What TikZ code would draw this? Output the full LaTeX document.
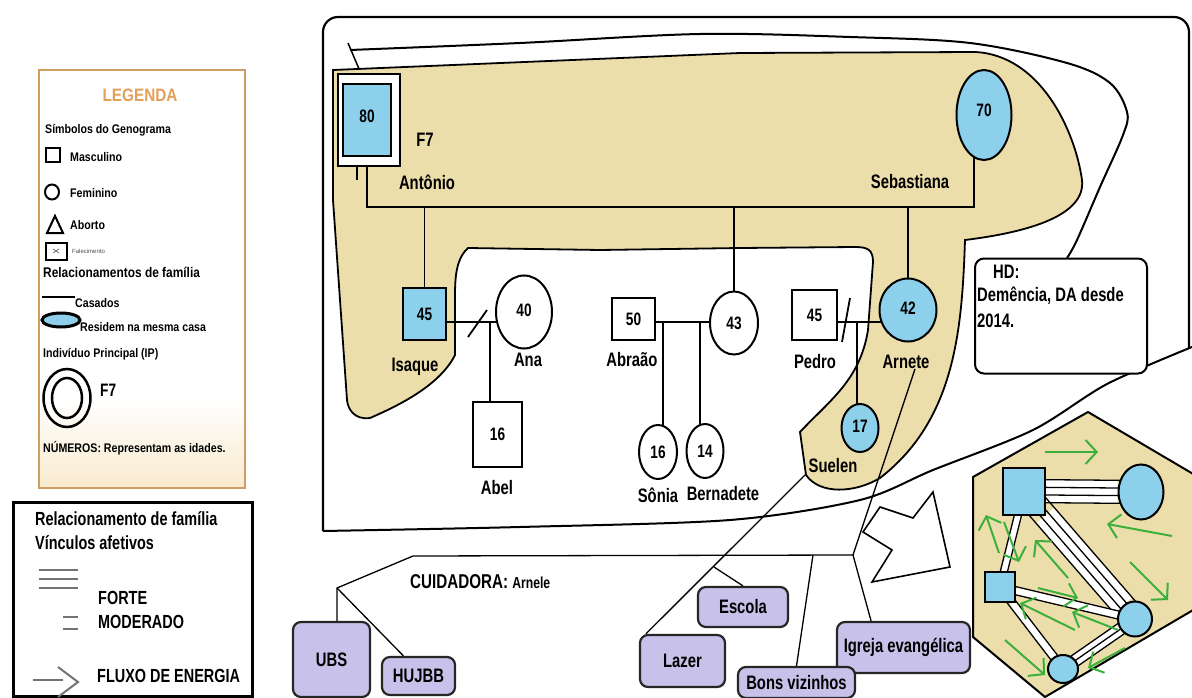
\documentclass[tikz,border=0pt]{standalone}
\usepackage{fontspec}
\setmainfont{Liberation Sans}
\newfontfamily\cfont{Liberation Sans}[FakeStretch=0.76]
\newfontfamily\lfont{Liberation Sans}[FakeStretch=0.85]
\usetikzlibrary{shapes.geometric,calc,arrows.meta}
\pgfdeclarelayer{bg}
\pgfsetlayers{bg,main}
\definecolor{tanf}{RGB}{236,222,170}
\definecolor{skyb}{RGB}{140,208,235}
\definecolor{lav}{RGB}{200,194,234}
\definecolor{legor}{RGB}{208,158,100}
\definecolor{legtxt}{RGB}{226,160,90}
\definecolor{grn}{RGB}{60,175,60}
\definecolor{creamc}{RGB}{248,234,205}
\definecolor{grayl}{RGB}{115,115,115}
\newcommand\fLbl{\cfont\bfseries\fontsize{19.5}{21}\selectfont}
\newcommand\fNum{\cfont\bfseries\fontsize{18}{20}\selectfont}
\newcommand\fLeg{\lfont\bfseries\fontsize{12.5}{14}\selectfont}
\newcommand\bondlines[4]{%
  \draw[white, line width=#4] (#1) -- (#2);
  \foreach \o in {#3} {\draw[black, line width=1.3pt] ($(#1)!\o!90:(#2)$) -- ($(#2)!\o!-90:(#1)$);}
}
\begin{document}
\begin{tikzpicture}[x=1pt,y=-1pt,
  famline/.style={line width=1.8pt},
  msq/.style={draw, line width=2pt, rectangle, inner sep=0pt, fill=white, font=\fNum},
  fci/.style={draw, line width=2pt, ellipse, inner sep=0pt, fill=white, font=\fNum},
  bfill/.style={fill=skyb},
  lbl/.style={font=\fLbl, inner sep=0pt},
  legt/.style={font=\fLeg, inner sep=0pt, anchor=west},
  leg2t/.style={font=\cfont\bfseries\fontsize{19}{21}\selectfont, inner sep=0pt, anchor=west},
  res/.style={draw=black!85, line width=2.2pt, fill=lav, rounded corners=8pt, inner sep=0pt, font=\fLbl},
  thinl/.style={line width=1.3pt},
  grnar/.style={draw=grn, line width=2pt, -{Straight Barb[length=11pt,width=24pt]}},
  hxs/.style={draw, line width=2pt, fill=skyb, inner sep=0pt},
]
\useasboundingbox (0,0) rectangle (1192,698);

% ---------- background layer: frames and regions ----------
\begin{pgfonlayer}{bg}
\fill[white] (0,0) rectangle (1192,698);
% main frame
\draw[line width=2.2pt, rounded corners=15pt] (323,531) -- (323,17) -- (1189,17) -- (1189,348);
\draw[line width=2pt] plot[smooth, tension=0.5] coordinates {(1192,347) (1107,384) (1033,430) (933,470) (860,500) (730,520) (520,527) (323,531)};
% outer contour linked to HD box
\draw[line width=2pt] plot[smooth, tension=0.55] coordinates {(350,50) (520,43) (700,34) (850,37) (970,43) (1067,63) (1110,83) (1127,112) (1123,135) (1100,187) (1077,240) (1067,258)};
\draw[line width=1.5pt] (348,43) -- (365,83);
% tan region (residem na mesma casa)
\filldraw[fill=tanf, draw=black, line width=1.8pt]
  (333,70) -- (740,53) -- (975,52)
  .. controls (1040,55) and (1075,130) .. (1082,180)
  .. controls (1086,215) and (1030,232) .. (965,240)
  .. controls (962,330) and (955,420) .. (880,478)
  .. controls (855,493) and (820,495) .. (806,475)
  -- (800,432)
  .. controls (830,400) and (860,380) .. (868,330)
  -- (873,262)
  .. controls (873,250) and (868,247) .. (855,247)
  -- (740,248) -- (600,250) -- (468,248)
  .. controls (455,260) and (455,280) .. (455,300)
  -- (455,355)
  .. controls (440,385) and (400,405) .. (370,418)
  .. controls (355,420) and (348,410) .. (347,400)
  -- (333,200) -- cycle;
% hexagon (ecomap)
\filldraw[fill=tanf, draw=black, line width=2pt] (973,477) -- (1088,412) -- (1200,478) -- (1200,606) -- (1045,697) -- (973,637) -- cycle;
\end{pgfonlayer}

% ---------- legend 1 ----------
\fill[white] (39,70) rectangle (245,488);
\shade[top color=white, bottom color=creamc] (39,400) rectangle (245,488);
\node[draw=legor, line width=2.5pt, minimum width=206, minimum height=418, inner sep=0] (leg1) at (142,279) {};
\node[font=\lfont\bfseries\fontsize{18}{20}\selectfont, text=legtxt, inner sep=0] (legT) at (140,95) {LEGENDA};
\node[legt] (l1) at (45,130) {Símbolos do Genograma};
\node[draw, line width=2pt, minimum size=14pt, inner sep=0] (lsq) at (52.5,155.5) {};
\node[legt] (l2) at (70,157) {Masculino};
\node[draw, ellipse, line width=2pt, minimum width=14pt, minimum height=15pt, inner sep=0] (lci) at (52,192) {};
\node[legt] (l3) at (70,193) {Feminino};
\draw[line width=2pt] (47,233) -- (63,233) -- (55,216) -- cycle;
\node[legt] (l4) at (70,225) {Aborto};
\node[draw, line width=2pt, minimum width=21pt, minimum height=17pt, inner sep=0] (lfal) at (56,251) {};
\draw[black!55, line width=0.8pt] (53,249) -- (59,253) (53,253) -- (59,249);
\node[font=\fontsize{6}{7}\selectfont, text=black!70, anchor=west, inner sep=0] (l5) at (72,251) {Falecimento};
\node[font=\lfont\bfseries\fontsize{14}{16}\selectfont, inner sep=0, anchor=west] (l6) at (43,272) {Relacionamentos de família};
\draw[line width=2.5pt] (42,297) -- (75,297);
\node[legt] (l7) at (75,303) {Casados};
\node[draw, ellipse, line width=3pt, fill=skyb, minimum width=38pt, minimum height=14pt, inner sep=0] (lell) at (61,320) {};
\node[legt] (l8) at (80,327) {Residem na mesma casa};
\node[legt] (l9) at (43,354) {Indivíduo Principal (IP)};
\node[draw, ellipse, line width=2.5pt, minimum width=47pt, minimum height=58pt, inner sep=0] (lip) at (67,398) {};
\node[draw, ellipse, line width=2.5pt, minimum width=30pt, minimum height=40pt, inner sep=0] (lip2) at (67,398) {};
\node[font=\cfont\bfseries\fontsize{18}{20}\selectfont, anchor=west, inner sep=0] (l10) at (100,390) {F7};
\node[legt] (l11) at (43,448) {NÚMEROS: Representam as idades.};

% ---------- legend 2 ----------
\node[draw, line width=3pt, fill=white, minimum width=239, minimum height=194, inner sep=0] (leg2) at (132.5,599) {};
\node[leg2t] (m1) at (35,519) {Relacionamento de família};
\node[leg2t] (m2) at (35,543) {Vínculos afetivos};
\draw[grayl, line width=2pt] (39,570) -- (78,570) (39,579) -- (78,579) (39,588) -- (78,588);
\node[leg2t] (m3) at (98,598) {FORTE};
\draw[grayl, line width=2pt] (63,617) -- (78,617) (63,629) -- (78,629);
\node[leg2t] (m4) at (98,622) {MODERADO};
\draw[grayl, line width=2pt] (33,680) -- (63,680);
\draw[grayl, line width=2pt] (58,667) -- (78,682) -- (58,697);
\node[leg2t] (m5) at (97,676) {FLUXO DE ENERGIA};

% ---------- genogram nodes ----------
\node[msq, minimum width=62, minimum height=92] (antO) at (369,120) {};
\node[msq, bfill, minimum width=48, minimum height=72] (ant) at (367,120) {\raisebox{7pt}{80}};
\node[fci, bfill, minimum width=55, minimum height=90] (seb) at (984,115) {\raisebox{10pt}{70}};
\node[msq, bfill, minimum width=43, minimum height=52] (isa) at (424.5,314) {45};
\node[fci, minimum width=56, minimum height=73] (ana) at (524,312) {\raisebox{4pt}{40}};
\node[msq, minimum width=49, minimum height=65] (abel) at (497.5,434.5) {16};
\node[msq, minimum width=43, minimum height=42] (abr) at (633.5,319) {50};
\node[fci, minimum width=48, minimum height=63] (c43) at (734,323) {43};
\node[fci, minimum width=38, minimum height=54] (son) at (658,452) {16};
\node[fci, minimum width=37, minimum height=54] (ber) at (705,451) {14};
\node[msq, minimum width=45, minimum height=50] (ped) at (814.5,315) {45};
\node[fci, bfill, minimum width=57, minimum height=63] (arn) at (908,310) {\raisebox{4pt}{42}};
\node[fci, bfill, minimum width=37, minimum height=48] (sue) at (860,428) {\raisebox{3pt}{17}};

\node[lbl] (tF7) at (425,140) {F7};
\node[lbl] (tAnt) at (427,182) {Antônio};
\node[lbl] (tSeb) at (910,182) {Sebastiana};
\node[lbl] (tIsa) at (415,367) {Isaque};
\node[lbl] (tAna) at (528,360) {Ana};
\node[lbl] (tAbel) at (497,488) {Abel};
\node[lbl] (tAbr) at (632,360) {Abraão};
\node[lbl] (tSon) at (658,495) {Sônia};
\node[lbl] (tBer) at (723,494) {Bernadete};
\node[lbl] (tPed) at (815,362) {Pedro};
\node[lbl] (tArn) at (906,362) {Arnete};
\node[lbl] (tSue) at (833,466) {Suelen};

% HD box
\node[draw, line width=2pt, rounded corners=9pt, fill=white, minimum width=172, minimum height=115, inner sep=0] (hd) at (1061,316) {};
\node[lbl, anchor=west] (tHD) at (993,272) {HD:};
\node[lbl, anchor=west] (tDem) at (977,296) {Demência, DA desde};
\node[lbl, anchor=west] (t2014) at (977,321) {2014.};

% resources
\node[res, minimum width=77, minimum height=75] (ubs) at (331.5,659.5) {UBS};
\node[res, minimum width=73, minimum height=38] (huj) at (418.5,676) {HUJBB};
\node[res, minimum width=85, minimum height=52] (laz) at (682.5,661) {Lazer};
\node[res, minimum width=90, minimum height=40] (esc) at (743,607) {Escola};
\node[res, minimum width=133, minimum height=51] (igr) at (903.5,647.5) {Igreja evangélica};
\node[res, minimum width=117, minimum height=31] (bons) at (796.5,682.5) {Bons vizinhos};
\node[font=\cfont\bfseries\fontsize{20}{22}\selectfont, inner sep=0, anchor=west] (tCui) at (410,582) {CUIDADORA: {\fontsize{16}{18}\selectfont Arnele}};

% hexagon members
\node[hxs, minimum width=42, minimum height=47] (hA) at (1024,491) {};
\node[hxs, ellipse, minimum width=45, minimum height=55] (hB) at (1141,492) {};
\node[hxs, minimum width=30, minimum height=30] (hC) at (1000,587) {};
\node[hxs, ellipse, minimum width=34, minimum height=35] (hD) at (1135,619) {};
\node[hxs, ellipse, minimum width=30, minimum height=28] (hE) at (1063,669) {};

% ---------- connectors (below nodes) ----------
\begin{pgfonlayer}{bg}
\coordinate (mL) at (367,207);
\coordinate (mR) at (974,207);
\draw[famline] (ant.center) -- (mL) -- (mR) -- (mR |- seb.center);
\draw[famline] (isa |- mL) -- (isa.center);
\draw[famline] (c43 |- mL) -- (c43.center);
\draw[famline] (arn |- mL) -- (arn.center);
\coordinate (y322) at (0,322);
\draw[famline] (isa.center |- y322) -- (ana.center |- y322);
\draw[famline] (468,337) -- (487,310);
\coordinate (cIA) at (490,322);
\draw[famline] (cIA) -- (cIA |- abel.center);
\draw[famline] (abr.center |- y322) -- (c43.center |- y322);
\coordinate (cS) at (663,322);
\coordinate (cB) at (700,322);
\draw[famline] (cS) -- (cS |- son.center);
\draw[famline] (cB) -- (cB |- ber.center);
\draw[famline] (ped.center |- y322) -- (arn.center |- y322);
\draw[famline] (842,342) -- (850,298);
\coordinate (cP) at (857,322);
\draw[famline] (cP) -- (cP |- sue.center);
\draw[thinl] (357,160) -- (357,180);
% ecomap links
\coordinate (jR) at (853,555);
\coordinate (jL) at (413,556);
\coordinate (jU) at (337,588);
\coordinate (jB) at (813,555);
\coordinate (sS) at (805,475);
\coordinate (jE) at (714,567);
\draw[thinl] ([xshift=9pt]tArn.south) -- (jR);
\draw[thinl] (jR) -- (jL) -- (jU) -- (jU |- ubs.north);
\draw[thinl] (jU) -- ($(huj.north west)!0.3!(huj.north east)$);
\draw[thinl] (jR) -- ($(igr.north west)!0.26!(igr.north east)$);
\draw[thinl] (jB) -- (bons.north);
\draw[thinl] (sS) -- ($(laz.north west)+(7,0)$);
\draw[thinl] (jE) -- (esc.north);
% block arrow
\filldraw[fill=white, draw=black, line width=1.6pt] (863,532) -- (880,507) -- (913,518) -- (933,492) -- (950,567) -- (872,582) -- (892,550) -- cycle;
% bonds in the hexagon
\bondlines{hA}{hB}{-11.5pt,-3.8pt,3.8pt,11.5pt}{23pt}
\bondlines{hA}{hD}{-12pt,-4pt,4pt,12pt}{24pt}
\bondlines{hA}{hC}{-3.5pt,3.5pt}{7pt}
\bondlines{hC}{hD}{-4pt,4pt}{8pt}
\bondlines{hC}{hE}{-4pt,4pt}{8pt}
\bondlines{hE}{hD}{-6pt,0pt,6pt}{12pt}
\end{pgfonlayer}

% ---------- energy flow arrows ----------
\draw[grnar] (1045,452) -- (1098,452);
\draw[grnar] (1172,536) -- (1107,524);
\draw[grnar] (1130,562) -- (1168,600);
\draw[grnar] (999,553) -- (986,515);
\draw[grnar] (1004,522) -- (1019,562);
\draw[grnar] (1068,578) -- (1035,540);
\draw[grnar] (1038,588) -- (1078,598);
\draw[grnar] (1075,630) -- (1020,603);
\draw[grnar] (1118,630) -- (1072,612);
\draw[grnar] (1005,640) -- (1045,675);
\draw[grnar] (1125,648) -- (1088,668);
\end{tikzpicture}
\end{document}
